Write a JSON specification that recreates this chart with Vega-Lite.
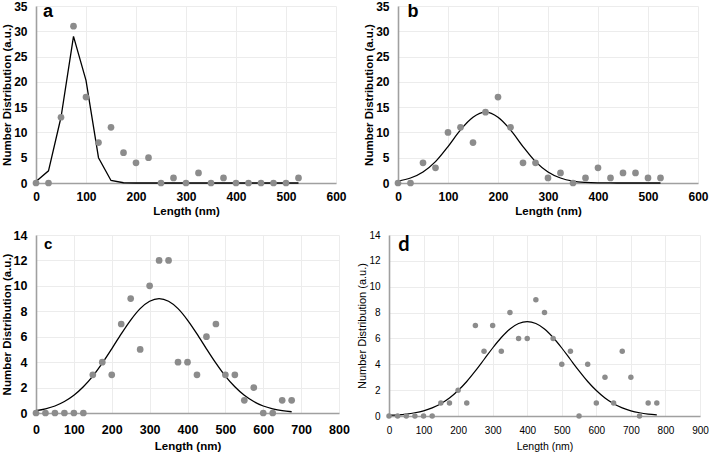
{
  "$schema": "https://vega.github.io/schema/vega-lite/v6.json",
  "padding": {"left": 1, "top": 0, "right": 0, "bottom": 0},
  "background": "white",
  "config": {
    "font": "Liberation Sans",
    "view": {"stroke": null},
    "axis": {
      "domainColor": "#a0a0a0",
      "domainWidth": 1.6,
      "gridColor": "#ececec",
      "gridWidth": 1,
      "ticks": false,
      "labelFont": "Liberation Sans",
      "labelFontWeight": "bold",
      "labelFontSize": 12,
      "labelColor": "#000000",
      "labelFlush": false,
      "labelOverlap": false,
      "titleFont": "Liberation Sans",
      "titleFontWeight": "bold",
      "titleFontSize": 11.5,
      "titleColor": "#000000"
    },
    "axisY": {"labelPadding": 9, "titlePadding": 1},
    "axisX": {"labelPadding": 8, "titlePadding": 3}
  },
  "datasets": {
    "a": [
      {"length": 0, "count": 0, "fit": 0.3},
      {"length": 25, "count": 0, "fit": 2.4},
      {"length": 50, "count": 13, "fit": 13},
      {"length": 75, "count": 31, "fit": 29},
      {"length": 100, "count": 17, "fit": 20.3},
      {"length": 125, "count": 8, "fit": 5},
      {"length": 150, "count": 11, "fit": 0.5},
      {"length": 175, "count": 6, "fit": 0.05},
      {"length": 200, "count": 4, "fit": 0},
      {"length": 225, "count": 5, "fit": 0},
      {"length": 250, "count": 0, "fit": 0},
      {"length": 275, "count": 1, "fit": 0},
      {"length": 300, "count": 0, "fit": 0},
      {"length": 325, "count": 2, "fit": 0},
      {"length": 350, "count": 0, "fit": 0},
      {"length": 375, "count": 1, "fit": 0},
      {"length": 400, "count": 0, "fit": 0},
      {"length": 425, "count": 0, "fit": 0},
      {"length": 450, "count": 0, "fit": 0},
      {"length": 475, "count": 0, "fit": 0},
      {"length": 500, "count": 0, "fit": 0},
      {"length": 525, "count": 1, "fit": 0}
    ],
    "b": [
      {"length": 0, "count": 0, "fit": 0.37},
      {"length": 25, "count": 0, "fit": 0.99},
      {"length": 50, "count": 4, "fit": 2.19},
      {"length": 75, "count": 3, "fit": 4.22},
      {"length": 100, "count": 10, "fit": 7.2},
      {"length": 125, "count": 11, "fit": 10.5},
      {"length": 150, "count": 8, "fit": 13.0},
      {"length": 175, "count": 14, "fit": 14},
      {"length": 200, "count": 17, "fit": 13.0},
      {"length": 225, "count": 11, "fit": 10.5},
      {"length": 250, "count": 4, "fit": 7.2},
      {"length": 275, "count": 4, "fit": 4.22},
      {"length": 300, "count": 1, "fit": 2.19},
      {"length": 325, "count": 2, "fit": 0.99},
      {"length": 350, "count": 0, "fit": 0.37},
      {"length": 375, "count": 1, "fit": 0.12},
      {"length": 400, "count": 3, "fit": 0.03},
      {"length": 425, "count": 1, "fit": 0.01},
      {"length": 450, "count": 2, "fit": 0},
      {"length": 475, "count": 2, "fit": 0},
      {"length": 500, "count": 1, "fit": 0},
      {"length": 525, "count": 1, "fit": 0}
    ],
    "c": [
      {"length": 0, "count": 0, "fit": 0.18},
      {"length": 25, "count": 0, "fit": 0.33},
      {"length": 50, "count": 0, "fit": 0.55},
      {"length": 75, "count": 0, "fit": 0.9},
      {"length": 100, "count": 0, "fit": 1.39},
      {"length": 125, "count": 0, "fit": 2.06},
      {"length": 150, "count": 3, "fit": 2.9},
      {"length": 175, "count": 4, "fit": 3.92},
      {"length": 200, "count": 3, "fit": 5.05},
      {"length": 225, "count": 7, "fit": 6.22},
      {"length": 250, "count": 9, "fit": 7.31},
      {"length": 275, "count": 5, "fit": 8.21},
      {"length": 300, "count": 10, "fit": 8.79},
      {"length": 325, "count": 12, "fit": 9.0},
      {"length": 350, "count": 12, "fit": 8.79},
      {"length": 375, "count": 4, "fit": 8.21},
      {"length": 400, "count": 4, "fit": 7.31},
      {"length": 425, "count": 3, "fit": 6.22},
      {"length": 450, "count": 6, "fit": 5.05},
      {"length": 475, "count": 7, "fit": 3.92},
      {"length": 500, "count": 3, "fit": 2.9},
      {"length": 525, "count": 3, "fit": 2.06},
      {"length": 550, "count": 1, "fit": 1.39},
      {"length": 575, "count": 2, "fit": 0.9},
      {"length": 600, "count": 0, "fit": 0.55},
      {"length": 625, "count": 0, "fit": 0.33},
      {"length": 650, "count": 1, "fit": 0.18},
      {"length": 675, "count": 1, "fit": 0.1}
    ],
    "d": [
      {"length": 0, "count": 0, "fit": 0.06},
      {"length": 25, "count": 0, "fit": 0.09},
      {"length": 50, "count": 0, "fit": 0.15},
      {"length": 75, "count": 0, "fit": 0.25},
      {"length": 100, "count": 0, "fit": 0.4},
      {"length": 125, "count": 0, "fit": 0.63},
      {"length": 150, "count": 1, "fit": 0.95},
      {"length": 175, "count": 1, "fit": 1.39},
      {"length": 200, "count": 2, "fit": 1.97},
      {"length": 225, "count": 1, "fit": 2.67},
      {"length": 250, "count": 7, "fit": 3.49},
      {"length": 275, "count": 5, "fit": 4.37},
      {"length": 300, "count": 7, "fit": 5.26},
      {"length": 325, "count": 5, "fit": 6.07},
      {"length": 350, "count": 8, "fit": 6.73},
      {"length": 375, "count": 6, "fit": 7.15},
      {"length": 400, "count": 6, "fit": 7.3},
      {"length": 425, "count": 9, "fit": 7.15},
      {"length": 450, "count": 8, "fit": 6.73},
      {"length": 475, "count": 6, "fit": 6.07},
      {"length": 500, "count": 4, "fit": 5.26},
      {"length": 525, "count": 5, "fit": 4.37},
      {"length": 550, "count": 0, "fit": 3.49},
      {"length": 575, "count": 4, "fit": 2.67},
      {"length": 600, "count": 1, "fit": 1.97},
      {"length": 625, "count": 3, "fit": 1.39},
      {"length": 650, "count": 1, "fit": 0.95},
      {"length": 675, "count": 5, "fit": 0.63},
      {"length": 700, "count": 3, "fit": 0.4},
      {"length": 725, "count": 0, "fit": 0.25},
      {"length": 750, "count": 1, "fit": 0.15},
      {"length": 775, "count": 1, "fit": 0.09}
    ],
    "labels": [
      {"panel": "a"}, {"panel": "b"}, {"panel": "c"}, {"panel": "d"}
    ]
  },
  "spacing": 12,
  "vconcat": [
    {
      "spacing": 16,
      "hconcat": [
        {
          "width": 300, "height": 177,
          "encoding": {
            "x": {"type": "quantitative", "scale": {"domain": [0, 600], "nice": false}, "axis": {"title": "Length (nm)", "values": [0, 100, 200, 300, 400, 500, 600]}},
            "y": {"type": "quantitative", "scale": {"domain": [0, 35], "nice": false}, "axis": {"title": "Number Distribution (a.u.)", "values": [0, 5, 10, 15, 20, 25, 30, 35]}}
          },
          "layer": [
            {
              "data": {"name": "a"},
              "mark": {"type": "line", "color": "#000000", "strokeWidth": 1.3},
              "encoding": {"x": {"field": "length"}, "y": {"field": "fit"}}
            },
            {
              "data": {"name": "a"},
              "mark": {"type": "point", "filled": true, "shape": "circle", "color": "#8c8c8c", "opacity": 1, "size": 45},
              "encoding": {"x": {"field": "length"}, "y": {"field": "count"}}
            },
            {
              "data": {"name": "labels"},
              "transform": [{"filter": "datum.panel === 'a'"}],
              "mark": {"type": "text", "font": "Liberation Sans", "fontWeight": "bold", "fontSize": 18, "color": "#000000"},
              "encoding": {"x": {"datum": 24}, "y": {"datum": 33.9}, "text": {"field": "panel"}}
            }
          ]
        },
        {
          "width": 300, "height": 177,
          "encoding": {
            "x": {"type": "quantitative", "scale": {"domain": [0, 600], "nice": false}, "axis": {"title": "Length (nm)", "values": [0, 100, 200, 300, 400, 500, 600]}},
            "y": {"type": "quantitative", "scale": {"domain": [0, 35], "nice": false}, "axis": {"title": "Number Distribution (a.u.)", "values": [0, 5, 10, 15, 20, 25, 30, 35]}}
          },
          "layer": [
            {
              "data": {"name": "b"},
              "mark": {"type": "line", "color": "#000000", "strokeWidth": 1.3, "interpolate": "monotone"},
              "encoding": {"x": {"field": "length"}, "y": {"field": "fit"}}
            },
            {
              "data": {"name": "b"},
              "mark": {"type": "point", "filled": true, "shape": "circle", "color": "#8c8c8c", "opacity": 1, "size": 45},
              "encoding": {"x": {"field": "length"}, "y": {"field": "count"}}
            },
            {
              "data": {"name": "labels"},
              "transform": [{"filter": "datum.panel === 'b'"}],
              "mark": {"type": "text", "font": "Liberation Sans", "fontWeight": "bold", "fontSize": 18, "color": "#000000"},
              "encoding": {"x": {"datum": 30}, "y": {"datum": 33.9}, "text": {"field": "panel"}}
            }
          ]
        }
      ]
    },
    {
      "spacing": 6,
      "hconcat": [
        {
          "width": 303, "height": 178,
          "encoding": {
            "x": {"type": "quantitative", "scale": {"domain": [0, 800], "nice": false}, "axis": {"title": "Length (nm)", "values": [0, 100, 200, 300, 400, 500, 600, 700, 800], "labelFontSize": 12.5, "labelPadding": 10, "titlePadding": 5}},
            "y": {"type": "quantitative", "scale": {"domain": [0, 14], "nice": false}, "axis": {"title": "Number Distribution (a.u.)", "values": [0, 2, 4, 6, 8, 10, 12, 14], "labelFontSize": 12.5}}
          },
          "layer": [
            {
              "data": {"name": "c"},
              "mark": {"type": "line", "color": "#000000", "strokeWidth": 1.3, "interpolate": "monotone"},
              "encoding": {"x": {"field": "length"}, "y": {"field": "fit"}}
            },
            {
              "data": {"name": "c"},
              "mark": {"type": "point", "filled": true, "shape": "circle", "color": "#8c8c8c", "opacity": 1, "size": 45},
              "encoding": {"x": {"field": "length"}, "y": {"field": "count"}}
            },
            {
              "data": {"name": "labels"},
              "transform": [{"filter": "datum.panel === 'c'"}],
              "mark": {"type": "text", "font": "Liberation Sans", "fontWeight": "bold", "fontSize": 15, "color": "#000000"},
              "encoding": {"x": {"datum": 32}, "y": {"datum": 13.3}, "text": {"field": "panel"}}
            }
          ]
        },
        {
          "width": 311, "height": 181,
          "encoding": {
            "x": {"type": "quantitative", "scale": {"domain": [0, 900], "nice": false}, "axis": {"title": "Length (nm)", "values": [0, 100, 200, 300, 400, 500, 600, 700, 800, 900], "labelFontWeight": "normal", "labelFontSize": 10, "titleFontWeight": "normal", "titleFontSize": 10.5, "labelPadding": 9, "titlePadding": 6}},
            "y": {"type": "quantitative", "scale": {"domain": [0, 14], "nice": false}, "axis": {"title": "Number Distribution (a.u.)", "values": [0, 2, 4, 6, 8, 10, 12, 14], "labelFontWeight": "normal", "labelFontSize": 10, "titleFontWeight": "normal", "titleFontSize": 11, "labelPadding": 9}}
          },
          "layer": [
            {
              "data": {"name": "d"},
              "mark": {"type": "line", "color": "#000000", "strokeWidth": 1.2, "interpolate": "monotone"},
              "encoding": {"x": {"field": "length"}, "y": {"field": "fit"}}
            },
            {
              "data": {"name": "d"},
              "mark": {"type": "point", "filled": true, "shape": "circle", "color": "#8c8c8c", "opacity": 1, "size": 30},
              "encoding": {"x": {"field": "length"}, "y": {"field": "count"}}
            },
            {
              "data": {"name": "labels"},
              "transform": [{"filter": "datum.panel === 'd'"}],
              "mark": {"type": "text", "font": "Lato", "fontWeight": "bold", "fontSize": 20, "color": "#000000"},
              "encoding": {"x": {"datum": 43}, "y": {"datum": 13.2}, "text": {"field": "panel"}}
            }
          ]
        }
      ]
    }
  ]
}
